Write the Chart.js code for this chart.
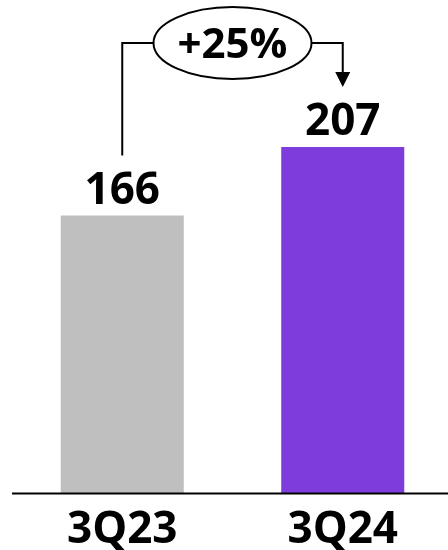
<!DOCTYPE html>
<html>
<head>
<meta charset="utf-8">
<script src="https://cdn.jsdelivr.net/npm/chart.js@4.4.1/dist/chart.umd.min.js"></script>
<style>
  body { margin: 0; overflow: hidden; background: #fff; }
  #wrap { width: 453px; height: 550px; }
</style>
</head>
<body>
<div id="wrap"><canvas id="chart"></canvas></div>
<script>
const categories = ['3Q23', '3Q24'];
const values = [166, 207];
const barColors = ['#bfbfbf', '#7d3cdb'];
const growthLabel = '+25%';

const FONT = '"Open Sans", "Noto Sans", sans-serif';

function boldText(ctx, text, x, y, size) {
  ctx.save();
  ctx.font = `700 ${size}px ${FONT}`;
  ctx.fillStyle = '#000';
  ctx.textAlign = 'center';
  ctx.textBaseline = 'alphabetic';
  ctx.fillText(text, x, y);
  ctx.restore();
}

const labelsPlugin = {
  id: 'labels',
  afterDraw(chart) {
    const ctx = chart.ctx;
    const area = chart.chartArea;
    const bars = chart.getDatasetMeta(0).data;
    const xScale = chart.scales.x;

    // baseline
    ctx.save();
    ctx.strokeStyle = '#000';
    ctx.lineWidth = 2;
    ctx.beginPath();
    ctx.moveTo(area.left, area.bottom + 0.5);
    ctx.lineTo(chart.width, area.bottom + 0.5);
    ctx.stroke();
    ctx.restore();

    // value labels
    bars.forEach((bar, i) => {
      boldText(ctx, String(values[i]), bar.x, bar.y - 12, 44);
    });

    // category labels
    categories.forEach((c, i) => {
      boldText(ctx, c, xScale.getPixelForValue(i), area.bottom + 50, 44);
    });

    // growth bracket
    const b0 = bars[0], b1 = bars[1];
    const topY = 43;
    const midX = (b0.x + b1.x) / 2;
    const rx = 79, ry = 36;
    ctx.save();
    ctx.strokeStyle = '#000';
    ctx.lineWidth = 2;
    ctx.beginPath();
    ctx.moveTo(b0.x, b0.y - 60);
    ctx.lineTo(b0.x, topY);
    ctx.lineTo(midX - rx, topY);
    ctx.moveTo(midX + rx, topY);
    ctx.lineTo(b1.x, topY);
    ctx.lineTo(b1.x, b1.y - 73);
    ctx.stroke();
    ctx.beginPath();
    ctx.ellipse(midX, topY, rx, ry, 0, 0, Math.PI * 2);
    ctx.fillStyle = '#fff';
    ctx.fill();
    ctx.stroke();
    // arrow head
    ctx.beginPath();
    ctx.moveTo(b1.x - 7.5, b1.y - 75);
    ctx.lineTo(b1.x + 7.5, b1.y - 75);
    ctx.lineTo(b1.x, b1.y - 60);
    ctx.closePath();
    ctx.fillStyle = '#000';
    ctx.fill();
    ctx.restore();

    boldText(ctx, growthLabel, midX, topY + 15, 42);
  }
};

new Chart(document.getElementById('chart'), {
  type: 'bar',
  data: {
    labels: categories,
    datasets: [{
      data: values,
      backgroundColor: barColors,
      borderWidth: 0,
      barPercentage: 0.558,
      categoryPercentage: 1
    }]
  },
  options: {
    responsive: true,
    maintainAspectRatio: false,
    animation: false,
    layout: { padding: { left: 12, right: 0, top: 0, bottom: 57 } },
    plugins: { legend: { display: false }, tooltip: { enabled: false } },
    scales: {
      x: { display: false },
      y: { display: false, min: 0, max: 295 }
    }
  },
  plugins: [labelsPlugin]
});
</script>
</body>
</html>
